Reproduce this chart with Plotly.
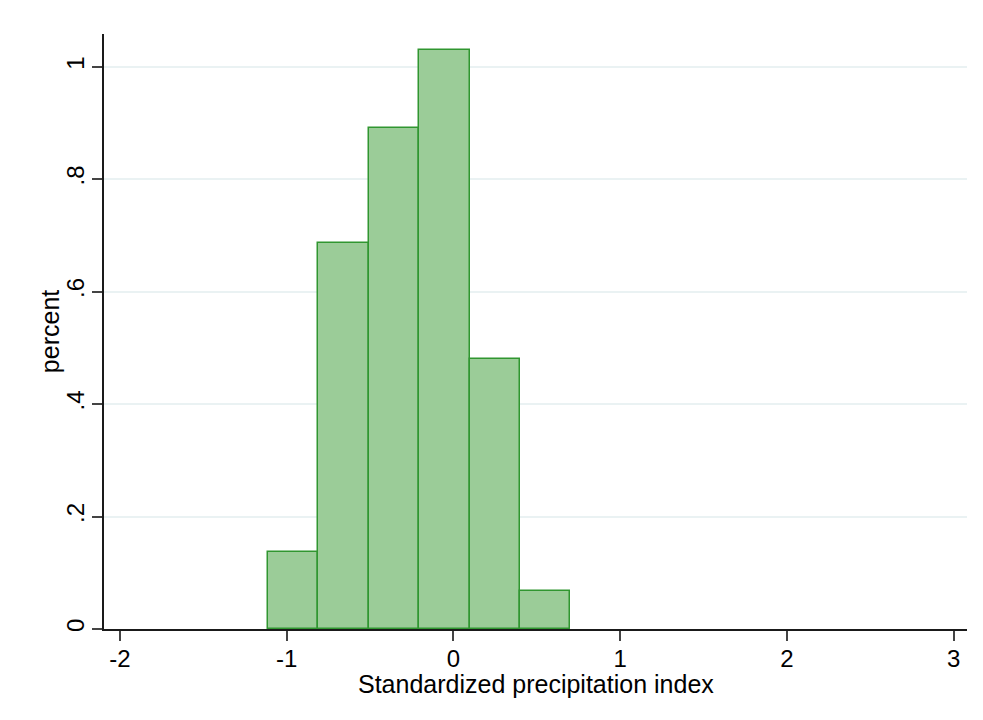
import plotly.graph_objects as go

# Histogram bins (edges) and heights
bin_edges = [-1.113, -0.811, -0.508, -0.206, 0.097, 0.399, 0.702]
percent = [0.137, 0.686, 0.891, 1.029, 0.480, 0.068]

x_tickvals = [-2, -1, 0, 1, 2, 3]
x_ticktext = ["-2", "-1", "0", "1", "2", "3"]
y_tickvals = [0, 0.2, 0.4, 0.6, 0.8, 1.0]
y_ticktext = ["0", ".2", ".4", ".6", ".8", "1"]
x_title = "Standardized precipitation index"
y_title = "percent"

centers = [(a + b) / 2 for a, b in zip(bin_edges[:-1], bin_edges[1:])]
widths = [b - a for a, b in zip(bin_edges[:-1], bin_edges[1:])]

fig = go.Figure()
fig.add_trace(go.Bar(
    x=centers, y=percent, width=widths,
    marker=dict(color="rgb(155,204,152)", line=dict(color="rgb(48,150,48)", width=1.5)),
    hoverinfo="x+y",
))

font = "Liberation Sans, Arial, sans-serif"
fig.update_layout(
    width=983, height=720,
    margin=dict(l=104, r=16, t=34, b=91),
    paper_bgcolor="white", plot_bgcolor="white",
    showlegend=False,
    font=dict(family=font, size=24, color="#000"),
    bargap=0,
    annotations=[
        dict(text=x_title, xref="paper", yref="paper", x=0.5, y=-0.093,
             xanchor="center", yanchor="middle", showarrow=False,
             font=dict(size=25)),
        dict(text=y_title, xref="paper", yref="paper", x=-0.063, y=0.5,
             xanchor="center", yanchor="middle", showarrow=False, textangle=-90,
             font=dict(size=25)),
    ],
)
fig.update_xaxes(
    range=[-2.095, 3.08],
    tickvals=x_tickvals, ticktext=x_ticktext,
    showgrid=False, zeroline=False,
    showline=True, linecolor="#1a1a1a", linewidth=1.5,
    ticks="outside", ticklen=10, tickwidth=1.5, tickcolor="#444",
    tickfont=dict(size=24),
    ticklabelstandoff=-3,
)
fig.update_yaxes(
    range=[0, 1.058],
    tickvals=y_tickvals, ticktext=y_ticktext, tickangle=-90,
    showgrid=True, gridcolor="#eaf2f3", gridwidth=2,
    zeroline=False,
    showline=True, linecolor="#1a1a1a", linewidth=1.5,
    ticks="outside", ticklen=10, tickwidth=1.5, tickcolor="#444",
    tickfont=dict(size=24),
    ticklabelstandoff=-1,
)

fig.write_html("out.html")
